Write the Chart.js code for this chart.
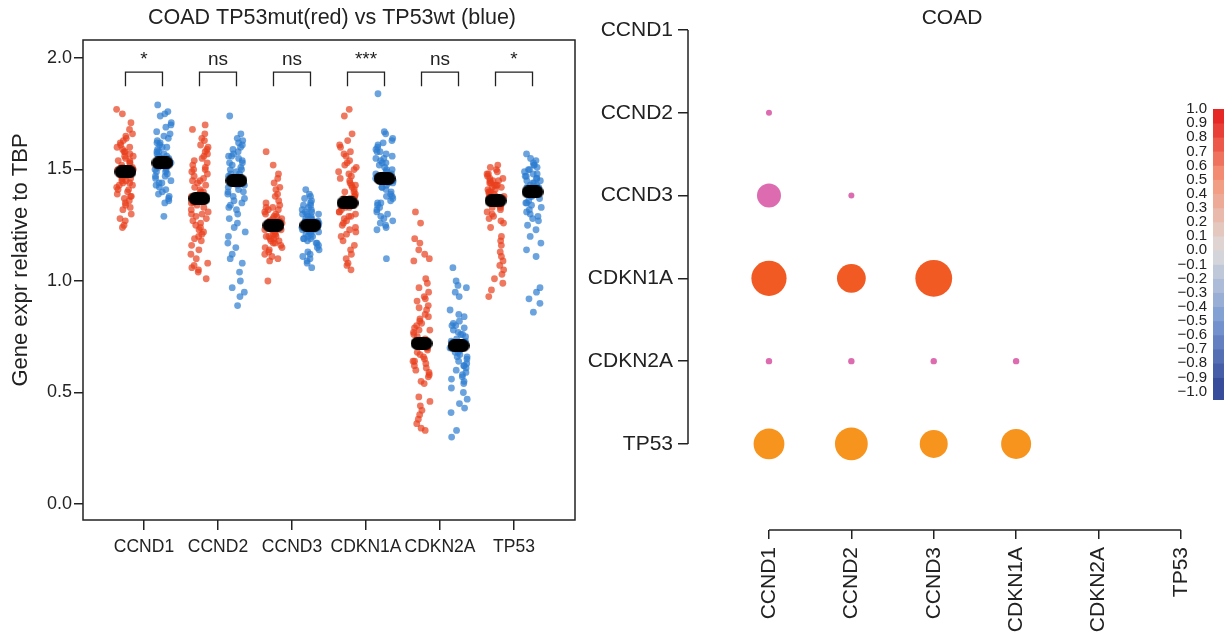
<!DOCTYPE html>
<html><head><meta charset="utf-8">
<script src="https://cdn.jsdelivr.net/npm/chart.js@4.4.1/dist/chart.umd.min.js"></script>
<style>
html,body{margin:0;padding:0;background:#fff;overflow:hidden;width:1224px;height:632px;position:relative;}
canvas{position:absolute;top:0;}
#left{left:0;} #right{left:560px;} #cbar{left:1150px;}
</style></head><body>
<canvas id="left" width="600" height="632" style="width:600px;height:632px"></canvas>
<canvas id="right" width="664" height="632" style="width:664px;height:632px"></canvas>
<canvas id="cbar" width="84" height="632" style="width:84px;height:632px"></canvas>
<script>
// ---------------- DATA ----------------
const genes = ['CCND1','CCND2','CCND3','CDKN1A','CDKN2A','TP53'];
const leftTitle = 'COAD TP53mut(red) vs TP53wt (blue)';
const leftYTitle = 'Gene expr relative to TBP';
const rightTitle = 'COAD';
const leftYTicks = [0, 0.5, 1.0, 1.5, 2.0];
const sigLabels = ['*','ns','ns','***','ns','*'];

const mutCCND1 = [1.77,1.75,1.71,1.68,1.66,1.65,1.64,1.63,1.62,1.61,1.60,1.60,1.59,1.58,1.57,1.56,1.56,1.55,1.54,1.53,1.53,1.52,1.51,1.50,1.50,1.49,1.49,1.48,1.48,1.47,1.46,1.46,1.45,1.44,1.44,1.43,1.42,1.41,1.41,1.40,1.39,1.38,1.38,1.37,1.36,1.35,1.34,1.33,1.32,1.30,1.28,1.27,1.25,1.24,1.54,1.51,1.47,1.43,1.58,1.45];
const wtCCND1 = [1.79,1.76,1.75,1.74,1.71,1.70,1.69,1.67,1.66,1.65,1.64,1.63,1.62,1.61,1.60,1.59,1.58,1.57,1.56,1.56,1.55,1.54,1.54,1.53,1.53,1.52,1.52,1.51,1.50,1.50,1.49,1.48,1.47,1.46,1.45,1.44,1.43,1.42,1.41,1.40,1.39,1.38,1.37,1.36,1.35,1.29,1.58,1.55,1.51,1.47,1.62,1.57,1.49,1.44,1.60];
const mutCCND2 = [1.70,1.68,1.66,1.64,1.63,1.61,1.60,1.59,1.58,1.57,1.56,1.55,1.54,1.53,1.52,1.51,1.50,1.49,1.48,1.47,1.46,1.45,1.44,1.43,1.42,1.41,1.40,1.39,1.38,1.37,1.37,1.36,1.35,1.34,1.33,1.32,1.31,1.30,1.29,1.28,1.27,1.26,1.25,1.24,1.23,1.22,1.21,1.20,1.19,1.18,1.16,1.14,1.12,1.10,1.08,1.07,1.06,1.05,1.04,1.01,1.45,1.40,1.35,1.50,1.30];
const wtCCND2 = [1.74,1.66,1.64,1.63,1.62,1.61,1.60,1.59,1.58,1.57,1.56,1.55,1.54,1.53,1.52,1.51,1.50,1.50,1.49,1.48,1.47,1.46,1.46,1.45,1.45,1.44,1.43,1.42,1.41,1.40,1.39,1.38,1.37,1.36,1.35,1.34,1.32,1.30,1.28,1.26,1.24,1.22,1.20,1.17,1.15,1.12,1.10,1.08,1.04,1.00,0.97,0.95,0.93,0.89,1.53,1.48,1.43,1.56,1.40,1.33];
const mutCCND3 = [1.58,1.52,1.48,1.46,1.44,1.42,1.41,1.39,1.38,1.36,1.35,1.34,1.33,1.32,1.32,1.31,1.30,1.30,1.29,1.28,1.28,1.27,1.27,1.26,1.26,1.25,1.25,1.25,1.24,1.24,1.23,1.23,1.22,1.22,1.21,1.21,1.20,1.20,1.19,1.19,1.18,1.17,1.17,1.16,1.15,1.15,1.14,1.13,1.12,1.11,1.10,1.09,1.00,1.29,1.26,1.23,1.20,1.18,1.33,1.27];
const wtCCND3 = [1.41,1.39,1.38,1.37,1.36,1.35,1.34,1.34,1.33,1.32,1.32,1.31,1.30,1.30,1.29,1.29,1.28,1.28,1.27,1.27,1.26,1.26,1.25,1.25,1.25,1.24,1.24,1.23,1.23,1.22,1.22,1.21,1.21,1.20,1.20,1.19,1.19,1.18,1.17,1.17,1.16,1.15,1.14,1.13,1.12,1.11,1.10,1.09,1.08,1.06,1.28,1.26,1.24,1.22,1.30,1.27,1.23,1.19,1.31,1.25];
const mutCDKN1A = [1.77,1.74,1.66,1.63,1.61,1.60,1.58,1.57,1.56,1.54,1.53,1.52,1.51,1.50,1.49,1.48,1.47,1.46,1.45,1.44,1.43,1.42,1.41,1.40,1.40,1.39,1.38,1.37,1.37,1.36,1.36,1.35,1.35,1.34,1.33,1.33,1.32,1.31,1.30,1.29,1.28,1.27,1.26,1.25,1.24,1.23,1.22,1.21,1.20,1.18,1.16,1.14,1.12,1.10,1.08,1.07,1.05,1.38,1.34,1.31,1.43,1.29];
const wtCDKN1A = [1.84,1.67,1.66,1.64,1.63,1.62,1.61,1.60,1.59,1.58,1.57,1.56,1.55,1.54,1.53,1.52,1.51,1.50,1.49,1.48,1.47,1.47,1.46,1.46,1.45,1.45,1.44,1.43,1.42,1.41,1.40,1.39,1.38,1.37,1.36,1.35,1.34,1.33,1.32,1.31,1.30,1.29,1.28,1.27,1.26,1.25,1.24,1.23,1.10,1.50,1.55,1.42,1.38,1.58,1.44,1.48,1.53,1.35];
const mutCDKN2A = [1.31,1.26,1.19,1.17,1.14,1.12,1.10,1.09,1.01,0.99,0.97,0.95,0.93,0.91,0.89,0.87,0.85,0.84,0.83,0.82,0.81,0.80,0.79,0.78,0.77,0.76,0.75,0.74,0.73,0.72,0.72,0.71,0.70,0.69,0.68,0.67,0.66,0.65,0.64,0.63,0.62,0.61,0.60,0.59,0.58,0.57,0.55,0.54,0.48,0.46,0.44,0.42,0.40,0.38,0.36,0.34,0.33,0.88,0.78,0.70,0.64,0.92];
const wtCDKN2A = [1.06,1.00,0.98,0.97,0.95,0.93,0.87,0.85,0.84,0.82,0.81,0.80,0.79,0.78,0.77,0.76,0.75,0.74,0.73,0.72,0.72,0.71,0.71,0.70,0.70,0.69,0.68,0.67,0.66,0.65,0.64,0.63,0.62,0.61,0.60,0.59,0.58,0.57,0.56,0.55,0.54,0.52,0.50,0.47,0.45,0.43,0.41,0.33,0.30,0.76,0.68,0.62,0.73,0.66,0.80];
const mutTP53 = [1.52,1.51,1.50,1.49,1.48,1.48,1.47,1.46,1.46,1.45,1.45,1.44,1.44,1.43,1.43,1.42,1.42,1.41,1.41,1.40,1.40,1.39,1.39,1.38,1.38,1.37,1.37,1.36,1.36,1.35,1.35,1.34,1.34,1.33,1.32,1.31,1.30,1.29,1.28,1.27,1.26,1.24,1.20,1.18,1.16,1.13,1.11,1.09,1.07,1.05,1.03,1.01,0.99,0.96,0.93,1.45,1.40,1.37,1.33,1.43];
const wtTP53 = [1.57,1.55,1.54,1.53,1.52,1.51,1.50,1.50,1.49,1.48,1.48,1.47,1.46,1.46,1.45,1.44,1.44,1.43,1.42,1.42,1.41,1.41,1.40,1.40,1.39,1.39,1.38,1.37,1.36,1.35,1.34,1.33,1.32,1.31,1.30,1.29,1.28,1.27,1.25,1.23,1.20,1.17,1.14,1.11,0.97,0.95,0.92,0.90,0.86,1.47,1.43,1.38,1.52,1.35,1.45];

const mutMedians = [1.49, 1.37, 1.25, 1.35, 0.72, 1.36];
const wtMedians  = [1.53, 1.45, 1.25, 1.46, 0.71, 1.40];

// correlation dot plot (lower triangle): row gene index, column gene index, strength
const pairRow      = [1, 2, 2, 3, 3, 3, 4, 4, 4, 4, 5, 5, 5, 5];
const pairCol      = [0, 0, 1, 0, 1, 2, 0, 1, 2, 3, 0, 1, 2, 3];
const pairStrength = [0.15, 0.60, 0.15, 0.88, 0.72, 0.92, 0.16, 0.16, 0.16, 0.16, 0.77, 0.82, 0.70, 0.75];

const cbarTicks = [1.0,0.9,0.8,0.7,0.6,0.5,0.4,0.3,0.2,0.1,0.0,-0.1,-0.2,-0.3,-0.4,-0.5,-0.6,-0.7,-0.8,-0.9,-1.0];

// ---------------- STYLE / BUILD ----------------
Chart.defaults.font.family = "'Liberation Sans', Arial, Helvetica, sans-serif";
Chart.defaults.color = '#222';
const INK = '#222';

const textPlugin = {
  id: 'texts',
  afterDraw(chart, args, opts) {
    const ctx = chart.ctx;
    (opts.items || []).forEach(t => {
      ctx.save();
      ctx.font = t.font; ctx.fillStyle = INK;
      ctx.textAlign = 'center'; ctx.textBaseline = 'middle';
      ctx.translate(t.x, t.y);
      if (t.rot) ctx.rotate(t.rot);
      ctx.fillText(t.text, 0, 0);
      ctx.restore();
    });
  }
};

function pill(w, h) {
  const c = document.createElement('canvas'); c.width = w; c.height = h;
  const g = c.getContext('2d'); g.fillStyle = '#000';
  const r = h / 2;
  g.beginPath();
  g.moveTo(r, 0); g.lineTo(w - r, 0); g.arc(w - r, r, r, -Math.PI/2, Math.PI/2);
  g.lineTo(r, h); g.arc(r, r, r, Math.PI/2, 3*Math.PI/2); g.closePath(); g.fill();
  return c;
}

const OFF = 0.25;
// horizontal strip jitter (layout only; deterministic hash of point index)
const jit = (i, g) => { const s = Math.sin(i * 127.1 + g * 311.7) * 43758.5453; return (s - Math.floor(s) - 0.5) * 0.24; };
const mutSeries = [mutCCND1, mutCCND2, mutCCND3, mutCDKN1A, mutCDKN2A, mutTP53];
const wtSeries  = [wtCCND1, wtCCND2, wtCCND3, wtCDKN1A, wtCDKN2A, wtTP53];
const mutPts = [], wtPts = [], medPts = [];
mutSeries.forEach((arr, g) => arr.forEach((v, i) => mutPts.push({x: g - OFF + jit(i, g), y: v})));
wtSeries.forEach((arr, g) => arr.forEach((v, i) => wtPts.push({x: g + OFF + jit(i, g + 7), y: v})));
mutMedians.forEach((v, g) => medPts.push({x: g - OFF, y: v}));
wtMedians.forEach((v, g) => medPts.push({x: g + OFF, y: v}));

const framePlugin = {
  id: 'frame',
  afterDraw(chart) {
    const {ctx, chartArea: a} = chart;
    ctx.save(); ctx.strokeStyle = INK; ctx.lineWidth = 1.5;
    ctx.strokeRect(a.left, a.top, a.right - a.left, a.bottom - a.top);
    ctx.restore();
  }
};
const bracketPlugin = {
  id: 'brackets',
  afterDatasetsDraw(chart) {
    const {ctx} = chart; const xs = chart.scales.x, ys = chart.scales.y;
    ctx.save(); ctx.strokeStyle = INK; ctx.lineWidth = 1.3; ctx.fillStyle = INK;
    ctx.font = "19px 'Liberation Sans', Arial, sans-serif";
    ctx.textAlign = 'center'; ctx.textBaseline = 'alphabetic';
    sigLabels.forEach((lab, g) => {
      const x1 = xs.getPixelForValue(g - OFF), x2 = xs.getPixelForValue(g + OFF);
      const yt = ys.getPixelForValue(1.937), yb = ys.getPixelForValue(1.874);
      ctx.beginPath(); ctx.moveTo(x1, yb); ctx.lineTo(x1, yt); ctx.lineTo(x2, yt); ctx.lineTo(x2, yb); ctx.stroke();
      ctx.fillText(lab, (x1 + x2) / 2, ys.getPixelForValue(1.969));
    });
    ctx.restore();
  }
};

new Chart(document.getElementById('left'), {
  type: 'scatter',
  data: { datasets: [
    { label: 'median', data: medPts, pointStyle: pill(22, 13), pointRadius: 6 },
    { label: 'TP53mut', data: mutPts, pointRadius: 3.4, borderWidth: 0, backgroundColor: 'rgba(232,62,28,0.70)' },
    { label: 'TP53wt', data: wtPts, pointRadius: 3.4, borderWidth: 0, backgroundColor: 'rgba(44,124,208,0.70)' }
  ]},
  options: {
    responsive: false, animation: false, events: [],
    layout: { padding: { top: 40, right: 25, left: 0, bottom: 0 } },
    plugins: { legend: { display: false }, tooltip: { enabled: false },
      texts: { items: [
        { text: leftTitle, x: 332, y: 18, font: "21.5px 'Liberation Sans', Arial, sans-serif" },
        { text: leftYTitle, x: 21, y: 260, rot: -Math.PI/2, font: "22px 'Liberation Sans', Arial, sans-serif" }
      ]}
    },
    scales: {
      x: { type: 'linear', min: -0.824, max: 5.824,
        afterBuildTicks: s => { s.ticks = genes.map((g, i) => ({value: i})); },
        afterFit: s => { s.height = 112; },
        ticks: { callback: v => genes[v], font: { size: 17.5 }, padding: 7, color: INK, autoSkip: false, maxRotation: 0 },
        grid: { drawOnChartArea: false, drawTicks: true, tickLength: 10, color: INK, lineWidth: 1.5 },
        border: { display: false } },
      y: { type: 'linear', min: -0.072, max: 2.081,
        afterBuildTicks: s => { s.ticks = leftYTicks.map(v => ({value: v})); },
        afterFit: s => { s.width = 83; },
        ticks: { callback: v => v.toFixed(1), font: { size: 18 }, padding: 2, color: INK },
        grid: { drawOnChartArea: false, drawTicks: true, tickLength: 9, color: INK, lineWidth: 1.5 },
        border: { display: false } }
    }
  },
  plugins: [framePlugin, bracketPlugin, textPlugin]
});

// ---------- right: correlation dot plot ----------
const rowColor = { CCND2: '#dc6caf', CCND3: '#dc6caf', CDKN1A: '#f15a22', CDKN2A: '#dc6caf', TP53: '#f7941d' };
const bubbles = pairRow.map((r, k) => ({ x: pairCol[k], y: r, r: pairStrength[k] * 20 }));
const bubbleColors = pairRow.map(r => rowColor[genes[r]]);

const axisLinePlugin = {
  id: 'axislines',
  afterDraw(chart) {
    const {ctx, chartArea: a} = chart; const xs = chart.scales.x, ys = chart.scales.y;
    ctx.save(); ctx.strokeStyle = INK; ctx.lineWidth = 1.5;
    ctx.beginPath();
    ctx.moveTo(a.left, ys.getPixelForValue(0)); ctx.lineTo(a.left, ys.getPixelForValue(genes.length - 1));
    ctx.moveTo(xs.getPixelForValue(0), a.bottom); ctx.lineTo(xs.getPixelForValue(genes.length - 1), a.bottom);
    ctx.stroke(); ctx.restore();
  }
};

new Chart(document.getElementById('right'), {
  type: 'bubble',
  data: { datasets: [{ label: 'corr', data: bubbles, backgroundColor: bubbleColors, borderWidth: 0, clip: false }] },
  options: {
    responsive: false, animation: false, events: [],
    layout: { padding: { top: 30, right: 12, left: 0, bottom: 0 } },
    plugins: { legend: { display: false }, tooltip: { enabled: false },
      texts: { items: [ { text: rightTitle, x: 392, y: 18, font: "21px 'Liberation Sans', Arial, sans-serif" } ] }
    },
    scales: {
      x: { type: 'linear', min: -0.983, max: 5.3,
        afterBuildTicks: s => { s.ticks = genes.map((g, i) => ({value: i})); },
        afterFit: s => { s.height = 102; },
        ticks: { callback: v => genes[v], font: { size: 21 }, padding: 8, color: INK, autoSkip: false, minRotation: 90, maxRotation: 90 },
        grid: { drawOnChartArea: false, drawTicks: true, tickLength: 9, color: INK, lineWidth: 1.5 },
        border: { display: false } },
      y: { type: 'linear', reverse: true, min: 0, max: 6.04,
        afterBuildTicks: s => { s.ticks = genes.map((g, i) => ({value: i})); },
        afterFit: s => { s.width = 128; },
        ticks: { callback: v => genes[v], font: { size: 21 }, padding: 5, color: INK, autoSkip: false },
        grid: { drawOnChartArea: false, drawTicks: true, tickLength: 10, color: INK, lineWidth: 1.5 },
        border: { display: false } }
    }
  },
  plugins: [axisLinePlugin, textPlugin]
});

// ---------- colorbar ----------
const anchors = [[-1,[48,68,150]],[-0.5,[122,154,210]],[0,[221,219,219]],[0.5,[244,151,122]],[1,[227,26,28]]];
function cmap(v) {
  for (let k = 0; k < anchors.length - 1; k++) {
    const [a, ca] = anchors[k], [b, cb] = anchors[k + 1];
    if (v >= a && v <= b) {
      const t = (v - a) / (b - a);
      const c = ca.map((x, j) => Math.round(x + (cb[j] - x) * t));
      return `rgb(${c[0]},${c[1]},${c[2]})`;
    }
  }
  return 'rgb(0,0,0)';
}
const CBMIN = -1.06;
const segs = [];
for (let k = 0; k < cbarTicks.length - 1; k++) {
  const hi = cbarTicks[k], lo = (k === cbarTicks.length - 2) ? CBMIN : cbarTicks[k + 1];
  segs.push({ data: [[lo, hi]], backgroundColor: cmap((cbarTicks[k] + cbarTicks[k + 1]) / 2), borderWidth: 0, barPercentage: 1, categoryPercentage: 1, grouped: false });
}
new Chart(document.getElementById('cbar'), {
  type: 'bar',
  data: { labels: ['r'], datasets: segs },
  options: {
    responsive: false, animation: false, events: [],
    layout: { padding: { top: 109, bottom: 232, left: 0, right: 0 } },
    plugins: { legend: { display: false }, tooltip: { enabled: false } },
    scales: {
      x: { display: false },
      y: { min: CBMIN, max: 1.0,
        afterBuildTicks: s => { s.ticks = cbarTicks.map(v => ({value: v})); },
        afterFit: s => { s.width = 63; },
        ticks: { callback: v => (v < -1e-9 ? '\u2212' + Math.abs(v).toFixed(1) : Math.abs(v).toFixed(1)), font: { size: 15 }, padding: 6, color: INK, autoSkip: false },
        grid: { display: false, drawTicks: false }, border: { display: false } }
    }
  }
});
</script>
</body></html>
